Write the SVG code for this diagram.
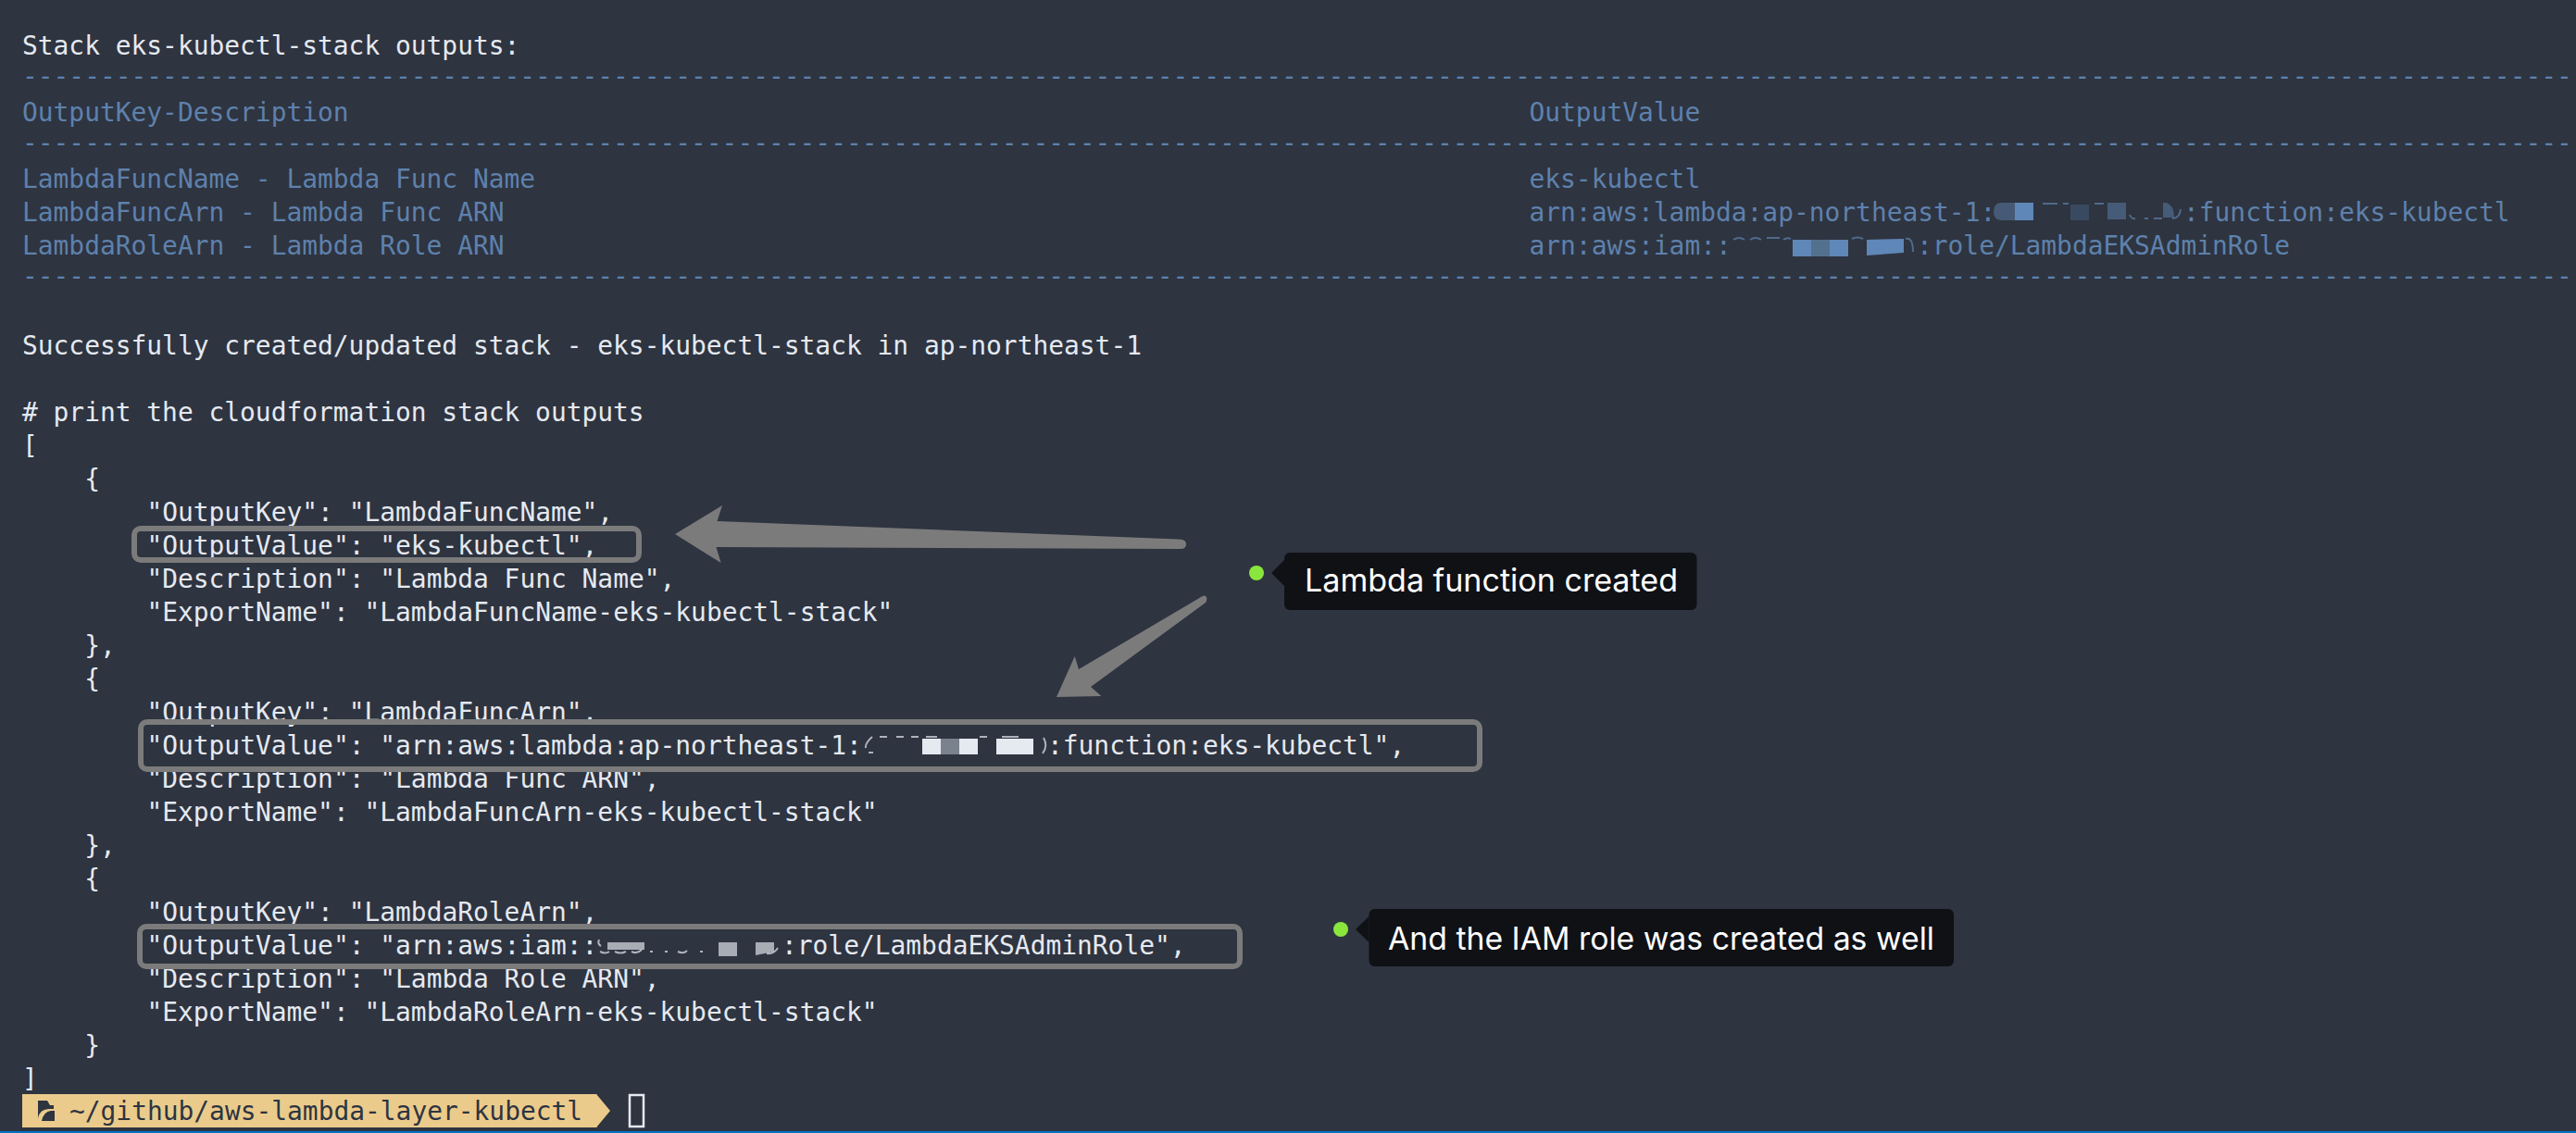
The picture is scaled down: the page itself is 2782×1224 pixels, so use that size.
<svg xmlns="http://www.w3.org/2000/svg" width="2782" height="1224" viewBox="0 0 2782 1224">
<style>
text{font-family:"DejaVu Sans Mono","Liberation Mono",monospace;font-size:27.9px;white-space:pre}
.w{fill:#e5e9f0}.b{fill:#5e81ac}.p{fill:#2e3440}
.box{fill:none;stroke:#7b7b7b;stroke-width:6}
.arrow{fill:#7b7b7b}
.tip{fill:#0f1115}.dot{fill:#8ae63c}
text.lab{font-family:Inter,"Noto Sans",sans-serif;font-size:34px;fill:#fff}
.frag{fill:none;stroke-width:2;opacity:.7}
</style>
<rect width="2782" height="1224" fill="#2e3440"/>
<rect y="1222" width="2782" height="2" fill="#0074c4"/>
<g id="terminal-table" transform="translate(1.5 1)">
<text class="w" x="22.5" y="58">Stack eks-kubectl-stack outputs:</text>
<text class="b" x="22.5" y="91">--------------------------------------------------------------------------------------------------------------------------------------------------------------------</text>
<text class="b" x="22.5" y="130">OutputKey-Description</text>
<text class="b" x="1650" y="130">OutputValue</text>
<text class="b" x="22.5" y="163">--------------------------------------------------------------------------------------------------------------------------------------------------------------------</text>
<text class="b" x="22.5" y="202">LambdaFuncName - Lambda Func Name</text>
<text class="b" x="1650" y="202">eks-kubectl</text>
<text class="b" x="22.5" y="238">LambdaFuncArn - Lambda Func ARN</text>
<text class="b" x="1650" y="238">arn:aws:lambda:ap-northeast-1:</text>
<text class="b" x="2356.500" y="238">:function:eks-kubectl</text>
<text class="b" x="22.5" y="274">LambdaRoleArn - Lambda Role ARN</text>
<text class="b" x="1650" y="274">arn:aws:iam::</text>
<text class="b" x="2068.500" y="274">:role/LambdaEKSAdminRole</text>
<text class="b" x="22.5" y="307">--------------------------------------------------------------------------------------------------------------------------------------------------------------------</text>
<text class="w" x="22.5" y="382">Successfully created/updated stack - eks-kubectl-stack in ap-northeast-1</text>
</g>
<g id="redaction-table">
<path d="M2162 219H2176V238H2162Q2153 238 2153 228.5Q2153 219 2162 219Z" fill="#465a75"/>
<rect x="2176" y="219" width="20" height="19" fill="#5f87b8"/>
<rect x="2236" y="221" width="20" height="17" fill="#394a60"/>
<rect x="2276" y="219" width="20" height="18" fill="#465b78"/>
<path d="M2336 219H2340Q2348 222 2348 235H2336Z" fill="#465b78"/>
<path class="frag" stroke="#5e81ac" d="M2206 220H2222M2228 220H2234M2262 220H2272M2300 232Q2302 237 2306 236M2316 236H2320M2326 236H2335M2346 236Q2354 236 2355 226"/>
<rect x="1936" y="259" width="20" height="18" fill="#5f87b8"/>
<rect x="1956" y="259" width="20" height="18" fill="#53708f"/>
<rect x="1976" y="259" width="20" height="18" fill="#5f87b8"/>
<polygon points="2016,259 2056,258 2056,273 2016,276" fill="#5f87b8"/>
<path class="frag" stroke="#5e81ac" d="M1872 259Q1878 255 1884 259M1890 259Q1896 255 1902 259M1908 257H1922M1926 259Q1930 256 1934 258M2000 258Q2006 255 2012 258M2058 258Q2066 256 2066 272"/>
</g>
<g id="terminal-json" transform="translate(1.5 1)">
<text class="w" x="22.5" y="454"># print the cloudformation stack outputs</text>
<text class="w" x="22.5" y="490">[</text>
<text class="w" x="89.7" y="526">{</text>
<text class="w" x="156.9" y="562">"OutputKey": "LambdaFuncName",</text>
<text class="w" x="156.9" y="598">"OutputValue": "eks-kubectl",</text>
<text class="w" x="156.9" y="634">"Description": "Lambda Func Name",</text>
<text class="w" x="156.9" y="670">"ExportName": "LambdaFuncName-eks-kubectl-stack"</text>
<text class="w" x="89.7" y="706">},</text>
<text class="w" x="89.7" y="742">{</text>
<text class="w" x="156.9" y="778">"OutputKey": "LambdaFuncArn",</text>
<text class="w" x="156.9" y="814">"OutputValue": "arn:aws:lambda:ap-northeast-1:</text>
<text class="w" x="1129.500" y="814">:function:eks-kubectl",</text>
<text class="w" x="156.9" y="850">"Description": "Lambda Func ARN",</text>
<text class="w" x="156.9" y="886">"ExportName": "LambdaFuncArn-eks-kubectl-stack"</text>
<text class="w" x="89.7" y="922">},</text>
<text class="w" x="89.7" y="958">{</text>
<text class="w" x="156.9" y="994">"OutputKey": "LambdaRoleArn",</text>
<text class="w" x="156.9" y="1030">"OutputValue": "arn:aws:iam::</text>
<text class="w" x="842.500" y="1030">:role/LambdaEKSAdminRole",</text>
<text class="w" x="156.9" y="1066">"Description": "Lambda Role ARN",</text>
<text class="w" x="156.9" y="1102">"ExportName": "LambdaRoleArn-eks-kubectl-stack"</text>
<text class="w" x="89.7" y="1138">}</text>
<text class="w" x="22.5" y="1174">]</text>
</g>
<g id="redaction-json">
<rect x="996" y="798" width="20" height="17" fill="#e5e9f0"/>
<rect x="1016" y="798" width="20" height="17" fill="#7a828e"/>
<rect x="1036" y="798" width="20" height="17" fill="#e5e9f0"/>
<rect x="1076" y="798" width="40" height="17" fill="#e5e9f0"/>
<path class="frag" stroke="#e5e9f0" d="M942 796Q934 803 935 808M938 813H943M950 796H958M968 796H976M984 796H992M1000 796H1012M1058 796H1066M1082 796H1100M1127 797Q1132 806 1126 814"/>
<rect x="656" y="1018" width="40" height="8" fill="#a8acb5"/>
<rect x="776" y="1018" width="20" height="15" fill="#a8acb5"/>
<polygon points="816,1018 836,1018 836,1028 816,1032" fill="#a8acb5"/>
<path class="frag" stroke="#e5e9f0" d="M647 1015Q645 1020 649 1022M648 1028Q654 1031 658 1028M664 1028Q670 1031 676 1028M682 1028Q688 1031 693 1026M702 1028H705M718 1028H721M732 1028Q738 1031 742 1027M756 1028H759M828 1030Q836 1031 840 1024"/>
</g>
<g id="prompt">
<polygon points="24,1182 645,1182 660,1200 645,1218 24,1218" fill="#ebcb8b"/>
<path d="M645 1182L660 1200L645 1218" fill="none" stroke="#2e3440" stroke-width="1.5"/>
<path class="p" d="M41 1189H51L54 1194H58V1198H53Q43 1198 41 1208Z"/>
<path class="p" d="M45 1211Q47 1201 55 1200H59V1211Z"/>
<text class="p" x="75" y="1210">~/github/aws-lambda-layer-kubectl</text>
<rect x="680" y="1183" width="15" height="34" fill="none" stroke="#e5e9f0" stroke-width="2.5"/>
</g>
<g id="highlight-name"><rect class="box" x="145" y="571" width="545" height="34" rx="7"/></g>
<g id="highlight-func-arn"><rect class="box" x="152" y="780" width="1446" height="51" rx="7"/></g>
<g id="highlight-role-arn"><rect class="box" x="151" y="1001" width="1188" height="43" rx="7"/></g>
<g id="connectors">
<path class="arrow" d="M729 577L780 546L774.5 563L1275 582.7Q1281 583 1281 588Q1281 593 1275 593L773.5 591L778.6 608Z"/>
<path class="arrow" d="M1141 753L1160.7 709L1165 723L1297 645Q1301 642 1303 645Q1304 648 1302 651L1178 742L1189.4 752Z"/>
</g>
<g id="callout-lambda">
<circle class="dot" cx="1357" cy="619" r="8"/>
<path class="tip" d="M1373 619L1387 605V633Z"/>
<rect class="tip" x="1387" y="597" width="445.500" height="62" rx="6"/>
<text class="lab" x="1409" y="639" textLength="403" lengthAdjust="spacingAndGlyphs">Lambda function created</text>
</g>
<g id="callout-iam">
<circle class="dot" cx="1448" cy="1004" r="8"/>
<path class="tip" d="M1464 1004L1478.500 990V1018Z"/>
<rect class="tip" x="1478.500" y="982" width="631.500" height="62" rx="6"/>
<text class="lab" x="1499" y="1025.500" textLength="590" lengthAdjust="spacingAndGlyphs">And the IAM role was created as well</text>
</g>
</svg>
